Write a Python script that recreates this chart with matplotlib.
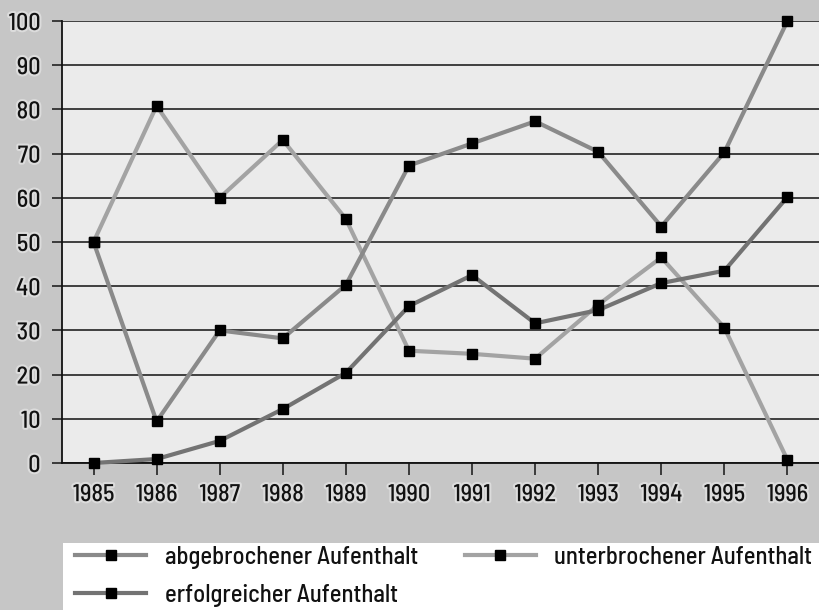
import matplotlib
matplotlib.use("Agg")
import matplotlib.pyplot as plt
from matplotlib.lines import Line2D
from matplotlib.patches import Rectangle
import matplotlib.patheffects as pe

FAM = ['Barlow Semi Condensed', 'Liberation Sans', 'DejaVu Sans']
plt.rcParams['font.family'] = FAM

years = [1985, 1986, 1987, 1988, 1989, 1990, 1991, 1992, 1993, 1994, 1995, 1996]
abgebrochen = [50, 9.4, 30, 28.2, 40.3, 67.3, 72.3, 77.3, 70.4, 53.5, 70.3, 100]
unterbrochen = [50, 80.8, 60, 73.1, 55.2, 25.4, 24.7, 23.6, 35.8, 46.5, 30.6, 0.7]
erfolgreich = [0, 0.9, 5.0, 12.2, 20.4, 35.5, 42.5, 31.6, 34.6, 40.7, 43.5, 60.2]
labels = ["abgebrochener Aufenthalt", "erfolgreicher Aufenthalt", "unterbrochener Aufenthalt"]
yticks = [0, 10, 20, 30, 40, 50, 60, 70, 80, 90, 100]

W, H = 819, 610
fig = plt.figure(figsize=(W / 100, H / 100), dpi=100)
fig.patch.set_facecolor('#c6c6c6')

# white legend area
fig.add_artist(Rectangle((63 / W, 0), 1 - 63 / W, (H - 543) / H, transform=fig.transFigure,
                         facecolor='white', edgecolor='none', zorder=0))

ax = fig.add_axes([62 / W, (H - 463) / H, (W - 62) / W, (463 - 21) / H])
ax.set_facecolor('#ebebeb')
ax.set_xlim(1984.5, 1996.5)
ax.set_ylim(0, 100)
ax.set_yticks(yticks)
ax.set_xticks(years)
ax.grid(axis='y', color='#222222', linewidth=1.2, zorder=1)
ax.grid(axis='x', visible=False)
for s in ['right', 'top']:
    ax.spines[s].set_visible(False)
ax.spines['left'].set_color('#111111')
ax.spines['left'].set_linewidth(1.3)
ax.spines['bottom'].set_color('#111111')
ax.spines['bottom'].set_linewidth(1.3)
ax.tick_params(axis='y', length=7.5, width=1.2, color='#222222', pad=8, labelsize=17.5)
ax.tick_params(axis='x', length=8.5, width=1.2, color='#222222', pad=6, labelsize=17.5)
for lab in ax.get_xticklabels() + ax.get_yticklabels():
    lab.set_path_effects([pe.withStroke(linewidth=3, foreground='#dcdcdc')])
    lab.set_color('#111111')
    lab.set_fontweight(500)

col_abg = '#8a8a8a'
col_erf = '#737373'
col_unt = '#a3a3a3'
mk = dict(marker='s', markersize=7, markerfacecolor='black', markeredgecolor='black')

ax.plot(years, unterbrochen, color=col_unt, linewidth=3, zorder=3, clip_on=False, **mk)
ax.plot(years, abgebrochen, color=col_abg, linewidth=3, zorder=4, clip_on=False, **mk)
ax.plot(years, erfolgreich, color=col_erf, linewidth=3, zorder=5, clip_on=False, **mk)

handles = [Line2D([], [], color=col_abg, linewidth=3, **mk),
           Line2D([], [], color=col_erf, linewidth=3, **mk),
           Line2D([], [], color=col_unt, linewidth=3, **mk)]
fig.legend(handles, labels, ncol=2, frameon=False, loc='upper left',
           bbox_to_anchor=(75 / W, (H - 546) / H), handlelength=2.9,
           handletextpad=0.75, columnspacing=1.9, labelspacing=0.6, borderpad=0,
           borderaxespad=0, labelcolor='#111111',
           prop={'family': FAM, 'size': 17.7, 'weight': 500})

fig.savefig('out.png', dpi=100, facecolor=fig.get_facecolor())
